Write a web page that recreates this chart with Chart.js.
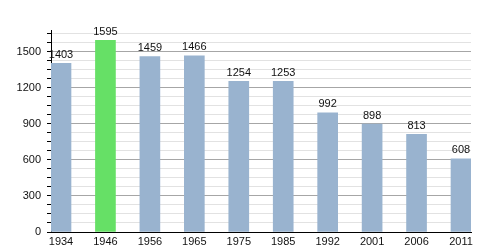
<!DOCTYPE html>
<html>
<head>
<meta charset="utf-8">
<script src="https://cdn.jsdelivr.net/npm/chart.js@4"></script>
<style>
html,body{margin:0;padding:0;background:#fff;}
canvas{display:block;}
</style>
</head>
<body>
<canvas id="c" width="500" height="250"></canvas>
<script>
const years = ['1934','1946','1956','1965','1975','1985','1992','2001','2006','2011'];
const population = [1403,1595,1459,1466,1254,1253,992,898,813,608];
const barColors = ['#99b3cf','#66e066','#99b3cf','#99b3cf','#99b3cf','#99b3cf','#99b3cf','#99b3cf','#99b3cf','#99b3cf'];
const yMax = 1680;
const minorStep = 75;
const majorStep = 300;

const FONT = {family: '"Liberation Sans", Arial, sans-serif', size: 11};

const valueLabels = {
  id: 'valueLabels',
  afterDatasetsDraw(chart) {
    const ctx = chart.ctx;
    const meta = chart.getDatasetMeta(0);
    ctx.save();
    ctx.font = '11px "Liberation Sans", Arial, sans-serif';
    ctx.fillStyle = '#111';
    ctx.textAlign = 'center';
    ctx.textBaseline = 'bottom';
    meta.data.forEach((bar, i) => {
      ctx.fillText(String(population[i]), bar.x, bar.y - 3);
    });
    ctx.restore();
  }
};

new Chart(document.getElementById('c'), {
  type: 'bar',
  data: {
    datasets: [{
      data: population.map((v, i) => ({x: i, y: v})),
      backgroundColor: barColors,
      borderWidth: 0,
      barThickness: 20
    }]
  },
  options: {
    responsive: false,
    animation: false,
    layout: {padding: {left: 0, right: 29, top: 30, bottom: 0}},
    plugins: {legend: {display: false}, tooltip: {enabled: false}},
    scales: {
      x: {
        type: 'linear',
        offset: false,
        min: -0.225,
        max: 9.225,
        afterBuildTicks(scale) { scale.ticks = years.map((_, i) => ({value: i})); },
        afterFit(scale) { scale.height = 18; },
        grid: {display: false, drawTicks: false, offset: false},
        border: {display: true, color: '#000', width: 1},
        ticks: {
          autoSkip: false,
          maxRotation: 0,
          padding: 3,
          color: '#111',
          font: FONT,
          callback: (v) => years[v] !== undefined ? years[v] : ''
        }
      },
      y: {
        type: 'linear',
        min: 0,
        max: yMax,
        afterBuildTicks(scale) {
          const t = [];
          for (let v = 0; v <= yMax; v += minorStep) t.push({value: v});
          scale.ticks = t;
        },
        afterFit(scale) { scale.width = 51; },
        grid: {
          drawOnChartArea: true,
          color: (c) => (c.tick && c.tick.value % majorStep === 0) ? '#a6a6a6' : '#e2e2e2',
          tickColor: '#000',
          tickLength: 4
        },
        border: {display: true, color: '#000', width: 1},
        ticks: {
          autoSkip: false,
          padding: 6,
          color: '#111',
          font: FONT,
          callback: (v) => v % majorStep === 0 ? String(v) : ''
        }
      }
    }
  },
  plugins: [valueLabels]
});
</script>
</body>
</html>
